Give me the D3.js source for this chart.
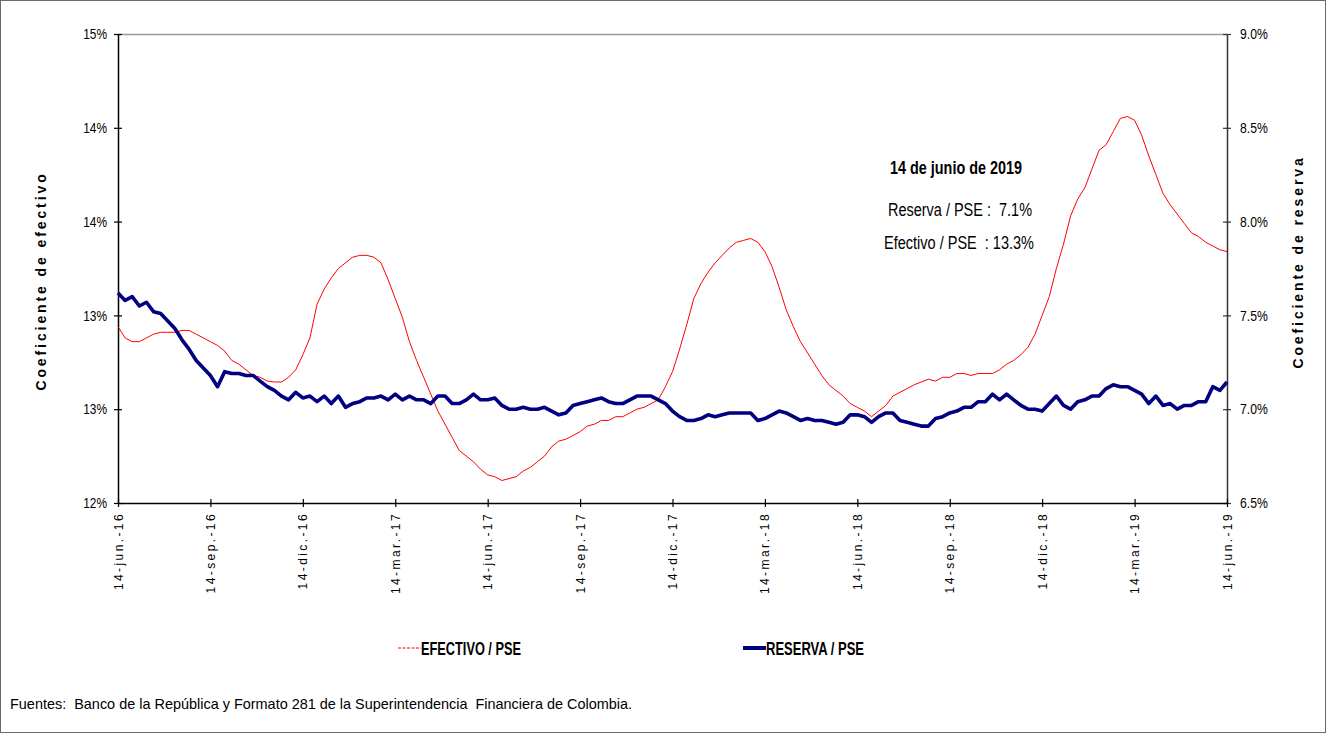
<!DOCTYPE html>
<html>
<head>
<meta charset="utf-8">
<script src="https://cdn.jsdelivr.net/npm/d3@7/dist/d3.min.js"></script>
<style>
  html, body { margin: 0; padding: 0; background: #fff; }
  svg { display: block; }
  text { white-space: pre; }
</style>
</head>
<body>
<svg id="chart" width="1326" height="733"></svg>
<script>
// ---------------- DATA ----------------
// Weekly observations, 14-jun-2016 .. 14-jun-2019 (157 points)
const efectivo = [
  12.94,12.88,12.86,12.86,12.88,12.90,12.91,12.91,12.91,12.92,
  12.92,12.90,12.88,12.86,12.84,12.81,12.76,12.74,12.71,12.68,
  12.67,12.65,12.645,12.645,12.67,12.71,12.79,12.88,13.06,13.14,
  13.20,13.25,13.28,13.31,13.32,13.32,13.31,13.28,13.19,13.09,
  12.99,12.86,12.76,12.67,12.58,12.49,12.42,12.35,12.28,12.25,
  12.22,12.18,12.15,12.14,12.12,12.13,12.14,12.17,12.19,12.22,
  12.25,12.30,12.33,12.34,12.36,12.38,12.41,12.42,12.44,12.44,
  12.46,12.46,12.48,12.50,12.51,12.53,12.55,12.62,12.70,12.82,
  12.95,13.09,13.17,13.23,13.28,13.32,13.36,13.39,13.40,13.41,
  13.39,13.34,13.26,13.15,13.03,12.94,12.86,12.80,12.74,12.68,
  12.63,12.60,12.57,12.53,12.51,12.49,12.46,12.49,12.52,12.57,
  12.59,12.61,12.63,12.645,12.66,12.65,12.67,12.67,12.69,12.69,
  12.68,12.69,12.69,12.69,12.71,12.74,12.76,12.79,12.83,12.90,
  13.00,13.10,13.25,13.38,13.53,13.62,13.68,13.78,13.88,13.91,
  13.98,14.05,14.06,14.04,13.96,13.85,13.75,13.65,13.59,13.54,
  13.49,13.44,13.42,13.39,13.37,13.35,13.34
];
const reserva = [
  7.62,7.58,7.60,7.55,7.57,7.52,7.51,7.47,7.43,7.37,
  7.32,7.26,7.22,7.18,7.12,7.20,7.19,7.19,7.18,7.18,
  7.15,7.12,7.10,7.07,7.05,7.09,7.06,7.07,7.04,7.07,
  7.03,7.07,7.01,7.03,7.04,7.06,7.06,7.07,7.05,7.08,
  7.05,7.07,7.05,7.05,7.03,7.07,7.07,7.03,7.03,7.05,
  7.08,7.05,7.05,7.06,7.02,7.00,7.00,7.01,7.00,7.00,
  7.01,6.99,6.97,6.98,7.02,7.03,7.04,7.05,7.06,7.04,
  7.03,7.03,7.05,7.07,7.07,7.07,7.05,7.03,6.99,6.96,
  6.94,6.94,6.95,6.97,6.96,6.97,6.98,6.98,6.98,6.98,
  6.94,6.95,6.97,6.99,6.98,6.96,6.94,6.95,6.94,6.94,
  6.93,6.92,6.93,6.97,6.97,6.96,6.93,6.96,6.98,6.98,
  6.94,6.93,6.92,6.91,6.91,6.95,6.96,6.98,6.99,7.01,
  7.01,7.04,7.04,7.08,7.05,7.08,7.05,7.02,7.00,7.00,
  6.99,7.03,7.07,7.02,7.00,7.04,7.05,7.07,7.07,7.11,
  7.13,7.12,7.12,7.10,7.08,7.03,7.07,7.02,7.03,7.00,
  7.02,7.02,7.04,7.04,7.12,7.10,7.145
];
const weeks = d3.range(efectivo.length); // week index 0..156
const xTickWeeks = [0,13,26,39,52,65,78,91,104,117,130,143,156];
const xTickLabels = ["14-jun.-16","14-sep.-16","14-dic.-16","14-mar.-17","14-jun.-17","14-sep.-17",
  "14-dic.-17","14-mar.-18","14-jun.-18","14-sep.-18","14-dic.-18","14-mar.-19","14-jun.-19"];
const leftTicks = [12, 12.5, 13, 13.5, 14, 14.5];
const rightTicks = [6.5, 7.0, 7.5, 8.0, 8.5, 9.0];
const seriesNames = ["EFECTIVO / PSE", "RESERVA / PSE"];
const noteTitle = "14 de junio de 2019";
const noteLines = ["Reserva / PSE :  7.1%", "Efectivo / PSE  : 13.3%"];
const leftTitle = "Coeficiente de efectivo";
const rightTitle = "Coeficiente de reserva";
const source = "Fuentes:  Banco de la República y Formato 281 de la Superintendencia  Financiera de Colombia.";

// ---------------- LAYOUT ----------------
const W = 1326, H = 733;
const plot = { left: 118, right: 1227, top: 34, bottom: 503 };
const FONT = "'Liberation Sans',Arial,sans-serif";

const svg = d3.select("#chart");

// squeeze text horizontally to imitate a narrow typeface
function condense(sel, factor) {
  sel.each(function () {
    const len = this.getComputedTextLength();
    d3.select(this).attr("textLength", (len * factor).toFixed(1)).attr("lengthAdjust", "spacingAndGlyphs");
  });
}
function fitWidth(sel, width) {
  sel.attr("textLength", width).attr("lengthAdjust", "spacingAndGlyphs");
}

svg.append("rect").attr("x", 0.5).attr("y", 0.5).attr("width", W - 1).attr("height", H - 1)
  .attr("fill", "#fff").attr("stroke", "#6a6a6a").attr("stroke-width", 1);

const x = d3.scaleLinear().domain([0, 156]).range([plot.left, plot.right]);
const yL = d3.scaleLinear().domain([12, 14.5]).range([plot.bottom, plot.top]);
const yR = d3.scaleLinear().domain([6.5, 9.0]).range([plot.bottom, plot.top]);

// top border of plot area
svg.append("line").attr("x1", plot.left).attr("x2", plot.right)
  .attr("y1", plot.top + 0.5).attr("y2", plot.top + 0.5)
  .attr("stroke", "#9a9a9a").attr("stroke-width", 1.5);

// Left axis
const gL = svg.append("g").attr("transform", `translate(${plot.left},0)`)
  .call(d3.axisLeft(yL).tickValues(leftTicks).tickSizeOuter(0).tickSizeInner(4)
    .tickPadding(7).tickFormat(d => Math.round(d) + "%"));
gL.select(".domain").attr("stroke", "#000").attr("stroke-width", 1.5);
gL.selectAll(".tick line").attr("x1", -4).attr("x2", 4).attr("stroke", "#000").attr("stroke-width", 1.2);
gL.selectAll(".tick text").attr("font-family", FONT).attr("font-size", 14.5).attr("fill", "#000");
condense(gL.selectAll(".tick text"), 0.82);

// Right axis
const gR = svg.append("g").attr("transform", `translate(${plot.right},0)`)
  .call(d3.axisRight(yR).tickValues(rightTicks).tickSizeOuter(0).tickSizeInner(4)
    .tickPadding(9).tickFormat(d => d.toFixed(1) + "%"));
gR.select(".domain").attr("stroke", "#333").attr("stroke-width", 1.5);
gR.selectAll(".tick line").attr("x1", -4).attr("x2", 4).attr("stroke", "#333").attr("stroke-width", 1.2);
gR.selectAll(".tick text").attr("font-family", FONT).attr("font-size", 14.5).attr("fill", "#000");
condense(gR.selectAll(".tick text"), 0.84);

// Bottom axis
const gB = svg.append("g").attr("transform", `translate(0,${plot.bottom})`)
  .call(d3.axisBottom(x).tickValues(xTickWeeks).tickSizeOuter(0).tickSizeInner(4)
    .tickFormat((d, i) => xTickLabels[i]));
gB.select(".domain").attr("stroke", "#000").attr("stroke-width", 1.5);
gB.selectAll(".tick line").attr("y1", -4).attr("y2", 4).attr("stroke", "#000").attr("stroke-width", 1.2);
gB.selectAll(".tick text")
  .attr("font-family", FONT).attr("font-size", 12).attr("letter-spacing", "2.4px").attr("fill", "#000")
  .attr("text-anchor", "end").attr("dy", null).attr("y", 0)
  .attr("transform", "translate(4,9) rotate(-90)");

// Lines
const lineEf = d3.line().x((d, i) => x(weeks[i])).y(d => yL(d));
const lineRe = d3.line().x((d, i) => x(weeks[i])).y(d => yR(d));

svg.append("path").datum(efectivo).attr("d", lineEf)
  .attr("fill", "none").attr("stroke", "#ff0000").attr("stroke-width", 1).attr("stroke-linejoin", "round");
svg.append("path").datum(reserva).attr("d", lineRe)
  .attr("fill", "none").attr("stroke", "#000080").attr("stroke-width", 3.6).attr("stroke-linejoin", "round");

// Axis titles
svg.append("text").text(leftTitle)
  .attr("transform", `translate(46,281) rotate(-90)`).attr("text-anchor", "middle")
  .attr("font-family", FONT).attr("font-weight", "bold").attr("font-size", 14).attr("letter-spacing", "2.9px");
svg.append("text").text(rightTitle)
  .attr("transform", `translate(1303,262) rotate(-90)`).attr("text-anchor", "middle")
  .attr("font-family", FONT).attr("font-weight", "bold").attr("font-size", 14).attr("letter-spacing", "2.9px");

// Annotation
const noteWidths = [132, 144, 150];
const noteX = [890, 888, 884];
svg.append("text").text(noteTitle).attr("x", noteX[0]).attr("y", 174)
  .attr("font-family", FONT).attr("font-weight", "bold").attr("font-size", 18)
  .call(fitWidth, noteWidths[0]);
noteLines.forEach((t, i) => {
  svg.append("text").text(t).attr("x", noteX[i + 1]).attr("y", 216 + i * 33)
    .attr("font-family", FONT).attr("font-size", 17.5)
    .call(fitWidth, noteWidths[i + 1]);
});

// Legend
const leg = [
  { name: seriesNames[0], x0: 398, color: "#ff0000", w: 1, dash: "3,1.5", tw: 100 },
  { name: seriesNames[1], x0: 743, color: "#000080", w: 4, dash: null, tw: 98 }
];
leg.forEach(l => {
  svg.append("line").attr("x1", l.x0).attr("x2", l.x0 + 23).attr("y1", 648).attr("y2", 648)
    .attr("stroke", l.color).attr("stroke-width", l.w).attr("stroke-dasharray", l.dash);
  svg.append("text").text(l.name).attr("x", l.x0 + 23).attr("y", 654.5)
    .attr("font-family", FONT).attr("font-weight", "bold").attr("font-size", 17.5)
    .call(fitWidth, l.tw);
});

// Source
svg.append("text").text(source).attr("x", 10).attr("y", 709)
  .attr("font-family", FONT).attr("font-size", 15)
  .call(fitWidth, 622);
</script>
</body>
</html>
